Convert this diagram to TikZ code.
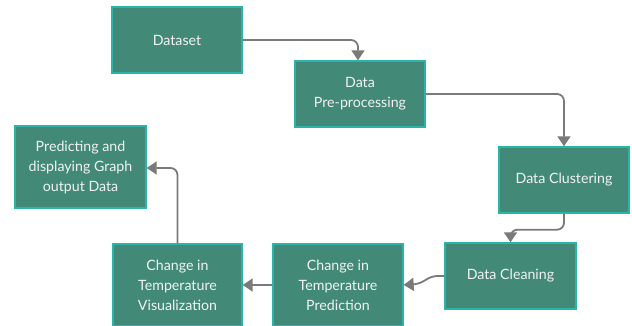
\documentclass[tikz,border=0pt]{standalone}
\usepackage{fontspec}
\setmainfont{Lato}
\usetikzlibrary{arrows.meta,calc}
\definecolor{boxfill}{HTML}{428A77}
\definecolor{boxline}{HTML}{2BB5AA}
\definecolor{arrgray}{HTML}{7A7A7A}
\definecolor{txt}{HTML}{F2F2F2}
\begin{document}
\begin{tikzpicture}[x=1pt,y=-1pt,
  stepbox/.style={rectangle,draw=boxline,fill=boxfill,line width=1.4pt,
    text=txt,align=center,inner sep=0pt,
    font=\fontsize{14.2}{20}\selectfont},
  arr/.style={draw=arrgray,line width=1.8pt,rounded corners=7pt,
    -{Triangle[width=13pt,length=10pt]}}]
\useasboundingbox (0,0) rectangle (632,326);
\node[stepbox,minimum width=130pt,minimum height=66pt] (ds) at (177,40) {Dataset};
\node[stepbox,minimum width=130pt,minimum height=66pt] (pp) at (360,94) {Data\\Pre-processing};
\node[stepbox,minimum width=130pt,minimum height=66pt] (dc) at (564,180) {Data Clustering};
\node[stepbox,minimum width=131pt,minimum height=66pt] (cl) at (510.5,276) {Data Cleaning};
\node[stepbox,minimum width=130pt,minimum height=82pt] (pr) at (338,285) {Change in\\Temperature\\Prediction};
\node[stepbox,minimum width=129pt,minimum height=82pt] (vi) at (177.5,285) {Change in\\Temperature\\Visualization};
\node[stepbox,minimum width=131pt,minimum height=82pt] (pg) at (80.5,167) {Predicting and\\displaying Graph\\output Data};
\draw[arr] (ds.east) -| ($(pp.north)+(-2,0)$);
\draw[arr] (pp.east) -| (dc.north);
\draw[arr] (dc.south) -- ++(0,16) -| (cl.north);
\draw[arr,rounded corners=5pt] (cl.west) -- ++(-12,0) -- ($(pr.east)+(15,-1)$) -- (pr.east);
\draw[arr] (pr.west) -- (vi.east);
\draw[arr] (vi.north) |- ($(pg.east)+(0,1)$);
\end{tikzpicture}
\end{document}
